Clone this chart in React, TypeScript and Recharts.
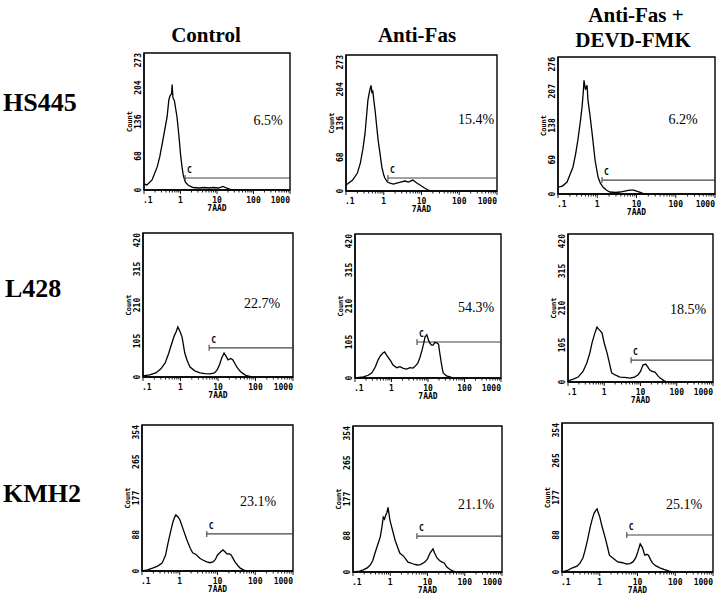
import React from 'react';
import { LineChart, Line, XAxis, YAxis, ReferenceLine, ReferenceDot, ReferenceArea } from 'recharts';

// ---------------- data ----------------
const columnTitles: string[][] = [['Control'], ['Anti-Fas'], ['Anti-Fas +', 'DEVD-FMK']];
const cellLines = ['HS445', 'L428', 'KMH2'];

const hs445Ticks = [0, 68, 136, 204, 273];
const devdTicks = [0, 69, 138, 207, 276];
const l428Ticks = [0, 105, 210, 315, 420];
const kmh2Ticks = [0, 88, 177, 265, 354];

const xTickValues = [0.1, 1, 10, 100, 1000];
const xTickLabels = ['.1', '1', '10', '100', '1000'];

const percentLabels = ['6.5%', '15.4%', '6.2%', '22.7%', '54.3%', '18.5%', '23.1%', '21.1%', '25.1%'];
const gateStart = [1.33, 1.29, 1.32, 5.8, 5.0, 5.5, 5.2, 5.2, 5.2];
const gateLevel = [24, 26, 28, 85, 105, 62, 90, 87, 88];

const hs445ControlX = [0.1, 0.12, 0.166, 0.23, 0.27, 0.33, 0.43, 0.48, 0.52, 0.57, 0.59, 0.62, 0.68, 0.8, 0.9, 1.0, 1.1, 1.2, 1.35, 1.6, 2.2, 3.2, 4.5, 6, 8, 11, 14.6, 18, 22, 27, 35];
const hs445ControlY = [12, 10, 20, 46, 66, 100, 146, 180, 188, 192, 210, 184, 178, 146, 110, 72, 46, 28, 16, 10, 5, 4, 5, 4, 5, 4, 7, 4, 2, 0, 0];

const hs445AntiFasX = [0.1, 0.15, 0.2, 0.24, 0.28, 0.32, 0.38, 0.42, 0.46, 0.49, 0.51, 0.55, 0.59, 0.65, 0.71, 0.8, 0.89, 1.0, 1.07, 1.25, 1.47, 1.8, 2.2, 2.8, 3.6, 4.5, 5.9, 7.5, 9.1, 12, 15, 18];
const hs445AntiFasY = [12, 22, 36, 56, 84, 116, 182, 200, 212, 196, 202, 180, 162, 130, 102, 74, 48, 32, 26, 18, 16, 14, 16, 18, 20, 18, 22, 16, 12, 6, 2, 0];

const hs445DevdX = [0.1, 0.13, 0.17, 0.24, 0.28, 0.32, 0.37, 0.41, 0.44, 0.46, 0.5, 0.55, 0.58, 0.65, 0.74, 0.88, 1.05, 1.2, 1.4, 1.7, 2.1, 3, 3.8, 5, 6.7, 8.5, 10, 13, 16, 20];
const hs445DevdY = [14, 16, 24, 54, 80, 108, 145, 175, 205, 229, 210, 219, 189, 160, 122, 68, 34, 22, 14, 8, 4, 3, 4, 6, 8, 8, 6, 3, 0, 0];

const l428ControlX = [0.1, 0.15, 0.22, 0.3, 0.39, 0.48, 0.59, 0.68, 0.76, 0.85, 0.95, 1.1, 1.3, 1.5, 1.8, 2.4, 3.3, 4.5, 6.1, 8, 9.4, 11, 12.5, 14.5, 16.5, 18.5, 22, 25, 28, 32, 38, 44, 55, 63, 80];
const l428ControlY = [3, 6, 12, 24, 41, 68, 99, 120, 131, 146, 135, 117, 70, 48, 29, 18, 12, 10, 9, 12, 20, 36, 55, 70, 60, 50, 54, 50, 40, 29, 18, 12, 5, 3, 0];

const l428AntiFasX = [0.1, 0.17, 0.23, 0.29, 0.36, 0.43, 0.5, 0.58, 0.65, 0.72, 0.8, 0.95, 1.1, 1.4, 1.7, 2.1, 2.6, 3.2, 3.9, 4.6, 5.3, 6.1, 6.9, 7.6, 8.3, 9.3, 10.2, 11.2, 12.5, 13.8, 15.5, 17.8, 19.5, 21, 23.5, 26, 32, 40, 50];
const l428AntiFasY = [0, 3, 8, 15, 32, 53, 65, 73, 76, 68, 61, 50, 38, 30, 33, 28, 26, 30, 29, 36, 44, 62, 82, 100, 120, 126, 112, 102, 96, 96, 104, 102, 98, 73, 40, 15, 6, 3, 0];

const l428DevdX = [0.1, 0.14, 0.19, 0.26, 0.33, 0.4, 0.46, 0.54, 0.63, 0.7, 0.78, 0.87, 1.0, 1.2, 1.4, 1.6, 2.0, 2.7, 3.6, 5.1, 6.8, 8.5, 10, 11.7, 14, 16, 18, 21, 25, 30, 35, 44, 54];
const l428DevdY = [3, 8, 14, 30, 54, 82, 111, 136, 156, 150, 145, 139, 110, 82, 52, 26, 20, 14, 13, 11, 14, 20, 30, 48, 51, 42, 34, 30, 28, 18, 11, 4, 0];

const kmh2ControlX = [0.1, 0.14, 0.19, 0.26, 0.34, 0.42, 0.49, 0.57, 0.66, 0.73, 0.79, 0.9, 1.02, 1.2, 1.55, 1.9, 2.2, 2.7, 3.4, 4.2, 5.2, 6.3, 7.6, 8.8, 10, 12, 14, 16, 18, 20, 23, 26, 29, 34, 40, 50, 60];
const kmh2ControlY = [0, 3, 7, 12, 19, 38, 68, 95, 119, 130, 136, 131, 123, 104, 75, 55, 44, 40, 31, 26, 22, 20, 22, 28, 39, 46, 51, 46, 41, 42, 39, 30, 22, 14, 7, 2, 0];

const kmh2AntiFasX = [0.1, 0.15, 0.19, 0.24, 0.29, 0.34, 0.39, 0.46, 0.54, 0.6, 0.65, 0.7, 0.76, 0.82, 0.87, 0.93, 0.98, 1.1, 1.35, 1.55, 1.8, 2.3, 3.0, 4, 5.2, 6.5, 8.5, 10, 11.7, 13, 14, 15.5, 18, 21, 24.5, 28, 33, 40, 49, 60];
const kmh2AntiFasY = [0, 2, 5, 10, 17, 28, 46, 66, 85, 110, 133, 128, 138, 145, 157, 140, 126, 108, 77, 62, 46, 38, 24, 20, 17, 18, 24, 32, 46, 52, 56, 46, 34, 28, 24, 22, 12, 6, 2, 0];

const kmh2DevdX = [0.1, 0.14, 0.19, 0.25, 0.3, 0.36, 0.41, 0.48, 0.56, 0.63, 0.71, 0.78, 0.85, 0.92, 1.0, 1.15, 1.38, 1.6, 1.8, 2.3, 3.0, 4.0, 5.2, 6.3, 7.6, 9, 10.2, 11.8, 13.5, 15.5, 17.5, 19.5, 22, 25, 30, 39, 50, 69, 85];
const kmh2DevdY = [0, 4, 10, 14, 21, 34, 52, 78, 107, 125, 140, 146, 150, 140, 131, 108, 83, 60, 40, 32, 24, 22, 19, 20, 24, 34, 48, 67, 58, 40, 42, 40, 30, 21, 15, 10, 6, 2, 0];

// ---------------- layout ----------------
const boxes = [
  { l: 144, t: 53, w: 146, h: 137 },
  { l: 346, t: 55, w: 151, h: 136 },
  { l: 558, t: 57, w: 157, h: 137 },
  { l: 143, t: 233, w: 150, h: 144 },
  { l: 355, t: 234, w: 146, h: 144 },
  { l: 568, t: 234, w: 145, h: 148 },
  { l: 142, t: 425, w: 151, h: 146 },
  { l: 353, t: 426, w: 149, h: 146 },
  { l: 562, t: 423, w: 151, h: 149 },
];
const percentPos = [
  [268, 120], [476, 119], [683, 119],
  [262, 303], [476, 307], [688, 309],
  [258, 501], [476, 504], [684, 504],
];
const titlePos = [[[206, 35]], [[417, 35]], [[636, 15], [633, 40]]];
const rowLabelPos = [[3, 102], [5, 288], [3, 493]];

// minor + major log ticks for the x axis
const xAllTicks: number[] = [];
[0.1, 1, 10, 100].forEach((d) => {
  for (let k = 1; k <= 9; k++) xAllTicks.push(Number((d * k).toPrecision(3)));
});
xAllTicks.push(1000);

const panels = [
  { xs: hs445ControlX, ys: hs445ControlY, ticks: hs445Ticks },
  { xs: hs445AntiFasX, ys: hs445AntiFasY, ticks: hs445Ticks },
  { xs: hs445DevdX, ys: hs445DevdY, ticks: devdTicks },
  { xs: l428ControlX, ys: l428ControlY, ticks: l428Ticks },
  { xs: l428AntiFasX, ys: l428AntiFasY, ticks: l428Ticks },
  { xs: l428DevdX, ys: l428DevdY, ticks: l428Ticks },
  { xs: kmh2ControlX, ys: kmh2ControlY, ticks: kmh2Ticks },
  { xs: kmh2AntiFasX, ys: kmh2AntiFasY, ticks: kmh2Ticks },
  { xs: kmh2DevdX, ys: kmh2DevdY, ticks: kmh2Ticks },
];

const monoFont = '"DejaVu Sans Mono", "Liberation Mono", monospace';
const serifFont = '"Liberation Serif", "DejaVu Serif", serif';
const tickFontSize = 8;

const XTick = (props: any) => {
  const { x, y, payload } = props;
  const v = payload.value;
  const mi = xTickValues.findIndex((m) => Math.abs(m - v) < 1e-9);
  const major = mi >= 0;
  const anchor = mi === 0 ? 'start' : mi === 4 ? 'end' : 'middle';
  return (
    <g>
      <line x1={x} x2={x} y1={y} y2={y + (major ? 4 : 2.5)} stroke="#000" strokeWidth={0.9} />
      {major && (
        <text x={mi === 0 ? x - 1 : x} y={y + 10} textAnchor={anchor} dominantBaseline="central"
          fontFamily={monoFont} fontWeight="bold" fontSize={tickFontSize} fill="#000">
          {xTickLabels[mi]}
        </text>
      )}
    </g>
  );
};

const makeYTick = (top: number) => (props: any) => {
  const { x, y, payload } = props;
  const tx = x - 5.5;
  const isTop = payload.value === top;
  return (
    <text x={tx} y={y} transform={`rotate(-90 ${tx} ${y})`} textAnchor={isTop ? 'end' : 'middle'}
      dominantBaseline="central" fontFamily={monoFont} fontWeight="bold" fontSize={tickFontSize} fill="#000">
      {payload.value}
    </text>
  );
};

const GateStart = (props: any) => {
  const { cx, cy } = props;
  return (
    <g>
      <line x1={cx} x2={cx} y1={cy - 3} y2={cy + 3} stroke="#444" strokeWidth={1.1} />
      <text x={cx + 2} y={cy - 5} fontFamily={monoFont} fontWeight="bold" fontSize={8} fill="#000">C</text>
    </g>
  );
};
const GateEnd = (props: any) => {
  const { cx, cy } = props;
  return <line x1={cx} x2={cx} y1={cy - 3} y2={cy + 3} stroke="#444" strokeWidth={1.1} />;
};

const YL = 30;
const XH = 24;
const MT = 2;
const MR = 2;

function Histogram({ idx }: { idx: number }) {
  const p = panels[idx];
  const box = boxes[idx];
  const data = p.xs.map((x, i) => ({ x, y: p.ys[i] }));
  const yMax = p.ticks[p.ticks.length - 1];
  const axisStyle = { stroke: '#000', strokeWidth: 1.3 };
  return (
    <div style={{ position: 'absolute', left: box.l - YL, top: box.t - MT }}>
      <LineChart width={box.w + YL + MR} height={box.h + MT + XH} data={data}
        margin={{ top: MT, right: MR, left: 0, bottom: 0 }}>
        <XAxis dataKey="x" type="number" scale="log" domain={[0.1, 1000]} allowDataOverflow
          ticks={xAllTicks} interval={0} tickSize={0} tickMargin={0} tickLine={false}
          tick={<XTick />} height={XH} axisLine={axisStyle} stroke="#000"
          label={{ value: '7AAD', position: 'insideBottom', offset: 3,
            style: { fontFamily: monoFont, fontWeight: 'bold', fontSize: tickFontSize, fill: '#000' } }} />
        <YAxis type="number" domain={[0, yMax]} ticks={p.ticks} interval={0} width={YL}
          tickSize={0} tickMargin={0} tickLine={false} tick={makeYTick(yMax)} axisLine={axisStyle}
          stroke="#000" allowDataOverflow
          label={{ value: 'Count', angle: -90, position: 'center', dx: 1,
            style: { fontFamily: monoFont, fontWeight: 'bold', fontSize: 7, fill: '#000' } }} />
        <ReferenceArea x1={0.1} x2={1000} y1={0} y2={yMax} fill="none" fillOpacity={0}
          stroke="#000" strokeWidth={1.4} strokeOpacity={1} ifOverflow="visible" />
        <ReferenceLine segment={[{ x: gateStart[idx], y: gateLevel[idx] }, { x: 1000, y: gateLevel[idx] }]}
          stroke="#444" strokeWidth={1.1} ifOverflow="visible" />
        <ReferenceDot x={gateStart[idx]} y={gateLevel[idx]} r={3} shape={GateStart} ifOverflow="visible" />
        <ReferenceDot x={1000} y={gateLevel[idx]} r={3} shape={GateEnd} ifOverflow="visible" />
        <Line dataKey="y" type="linear" stroke="#000" strokeWidth={1.3} dot={false}
          activeDot={false} isAnimationActive={false} />
      </LineChart>
    </div>
  );
}

export default function App() {
  return (
    <div style={{ position: 'absolute', left: 0, top: 0, width: 720, height: 594, background: '#fff', overflow: 'hidden' }}>
      <svg width={720} height={594} style={{ position: 'absolute', left: 0, top: 0 }}>
        {columnTitles.map((lines, c) =>
          lines.map((t, k) => (
            <text key={`t${c}-${k}`} x={titlePos[c][k][0]} y={titlePos[c][k][1]} textAnchor="middle"
              dominantBaseline="central" fontFamily={serifFont} fontWeight="bold" fontSize={21} fill="#000">
              {t}
            </text>
          ))
        )}
        {cellLines.map((t, r) => (
          <text key={`r${r}`} x={rowLabelPos[r][0]} y={rowLabelPos[r][1]} textAnchor="start"
            dominantBaseline="central" fontFamily={serifFont} fontWeight="bold" fontSize={26} fill="#000">
            {t}
          </text>
        ))}
        {percentLabels.map((t, i) => (
          <text key={`p${i}`} x={percentPos[i][0]} y={percentPos[i][1]} textAnchor="middle"
            dominantBaseline="central" fontFamily={serifFont} fontSize={14} fill="#000">
            {t}
          </text>
        ))}
      </svg>
      {panels.map((_, i) => (
        <Histogram key={i} idx={i} />
      ))}
    </div>
  );
}
